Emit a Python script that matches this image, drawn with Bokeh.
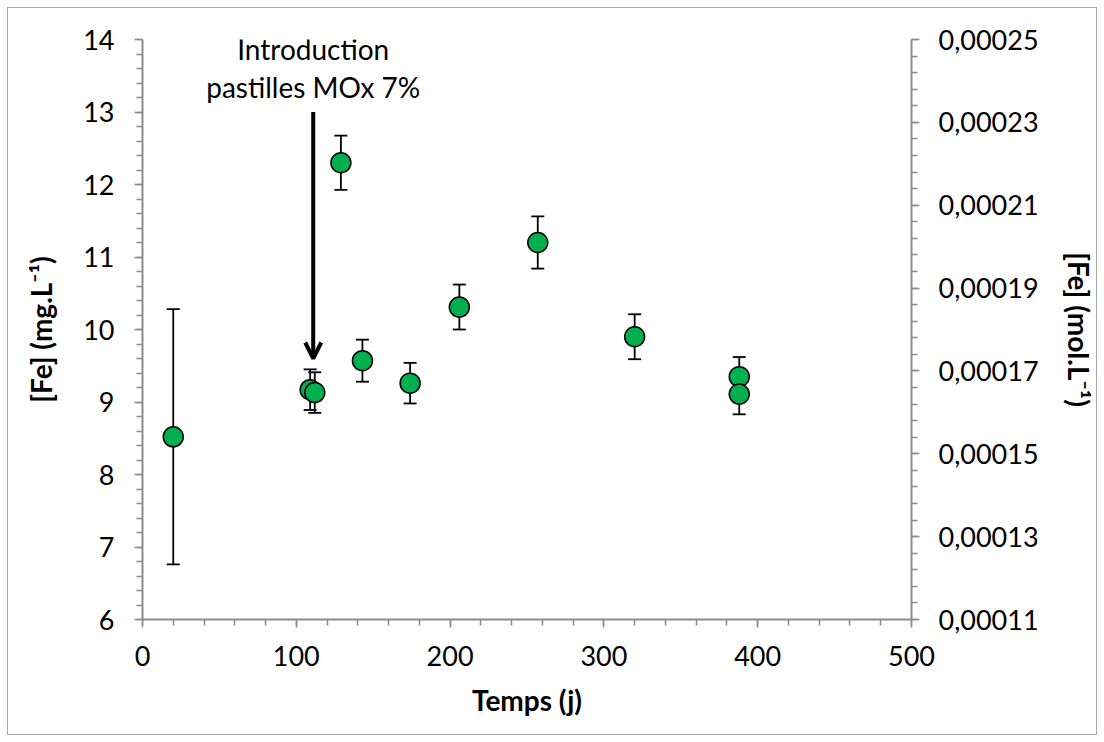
import numpy as np
from bokeh.plotting import figure
from bokeh.models import (ColumnDataSource, Range1d, LinearAxis, FixedTicker,
                          SingleIntervalTicker, Whisker, TeeHead, Arrow, OpenHead,
                          Label, CustomJSTickFormatter)
from bokeh.embed import file_html
from bokeh.resources import INLINE

# ---- data ----
temps = [20, 109, 112, 129, 143, 174, 206, 257, 320, 388, 388]
fe_mg = [8.52, 9.17, 9.13, 12.30, 9.57, 9.26, 10.31, 11.20, 9.90, 9.35, 9.11]
fe_err = [1.76, 0.28, 0.28, 0.375, 0.29, 0.28, 0.31, 0.36, 0.31, 0.27, 0.28]

x_ticks = [0, 100, 200, 300, 400, 500]
left_ticks = [6, 7, 8, 9, 10, 11, 12, 13, 14]
right_ticks = [0.00011, 0.00013, 0.00015, 0.00017, 0.00019, 0.00021, 0.00023, 0.00025]

annot_lines = ["Introduction", "pastilles MOx 7%"]
arrow_x = 111
arrow_y_start = 13.0
arrow_y_end = 9.6
annot_y = [13.87, 13.35]

FONT = "Lato"
AXIS_COL = "#8c8c8c"

src = ColumnDataSource(dict(
    x=temps, y=fe_mg,
    upper=[a + b for a, b in zip(fe_mg, fe_err)],
    lower=[a - b for a, b in zip(fe_mg, fe_err)],
))

p = figure(width=1090, height=728, output_backend="svg", toolbar_location=None,
           x_range=Range1d(x_ticks[0], x_ticks[-1]),
           y_range=Range1d(left_ticks[0], left_ticks[-1]),
           min_border_left=134, min_border_right=183, min_border_top=31,
           min_border_bottom=117)
p.styles = {"border": "1px solid #a6a6a6", "box-sizing": "border-box",
            "margin": "7px 0 0 7px"}
p.grid.visible = False
p.outline_line_color = None
p.background_fill_color = "white"
p.border_fill_color = "white"

p.extra_y_ranges = {"mol": Range1d(right_ticks[0], right_ticks[-1])}


def style_axis(ax):
    ax.axis_line_color = AXIS_COL
    ax.axis_line_width = 2
    ax.major_tick_line_color = AXIS_COL
    ax.minor_tick_line_color = AXIS_COL
    ax.major_tick_line_width = 1.5
    ax.minor_tick_line_width = 1.5
    ax.major_tick_out = 8
    ax.major_tick_in = 0
    ax.minor_tick_out = 6
    ax.minor_tick_in = 0
    ax.major_label_text_font = FONT
    ax.major_label_text_font_size = "27px"
    ax.major_label_text_color = "black"
    ax.axis_label_text_font = FONT
    ax.axis_label_text_font_size = "28px"
    ax.axis_label_text_font_style = "bold"
    ax.axis_label_text_color = "black"


# x axis
xa = p.xaxis[0]
xa.ticker = SingleIntervalTicker(interval=100, num_minor_ticks=5)
xa.axis_label = "Temps (j)"
style_axis(xa)
xa.major_label_standoff = 18
xa.axis_label_standoff = 14

# left axis
ya = p.yaxis[0]
ya.ticker = SingleIntervalTicker(interval=1, num_minor_ticks=5)
ya.axis_label = "[Fe] (mg.L⁻¹)"
style_axis(ya)
ya.major_label_standoff = 20
ya.axis_label_standoff = 22

# right axis
minor_r = list(np.round(np.arange(right_ticks[0], right_ticks[-1] + 1e-9, 0.000004), 7))
ra = LinearAxis(y_range_name="mol",
                ticker=FixedTicker(ticks=right_ticks, minor_ticks=minor_r),
                axis_label="[Fe] (mol.L⁻¹)")
ra.formatter = CustomJSTickFormatter(code="return tick.toFixed(5).replace('.', ',');")
style_axis(ra)
ra.major_label_standoff = 19
ra.axis_label_standoff = 20
p.add_layout(ra, "right")

# error bars
wh = Whisker(source=src, base="x", upper="upper", lower="lower",
             line_color="black", line_width=1.8, level="underlay",
             upper_head=TeeHead(size=13, line_color="black", line_width=1.8),
             lower_head=TeeHead(size=13, line_color="black", line_width=1.8))
p.add_layout(wh)

# points
p.scatter("x", "y", source=src, size=20, fill_color="#00B050",
          line_color="black", line_width=1.5)

# arrow + annotation
p.add_layout(Arrow(x_start=arrow_x, y_start=arrow_y_start, x_end=arrow_x, y_end=arrow_y_end,
                   line_width=4, line_color="black",
                   end=OpenHead(size=16, line_width=4, line_color="black")))
for txt, yy in zip(annot_lines, annot_y):
    p.add_layout(Label(x=arrow_x, y=yy, text=txt, text_align="center",
                       text_baseline="middle", text_font=FONT, text_font_size="28px",
                       text_color="black"))

open("out.html", "w").write(file_html(p, INLINE))
